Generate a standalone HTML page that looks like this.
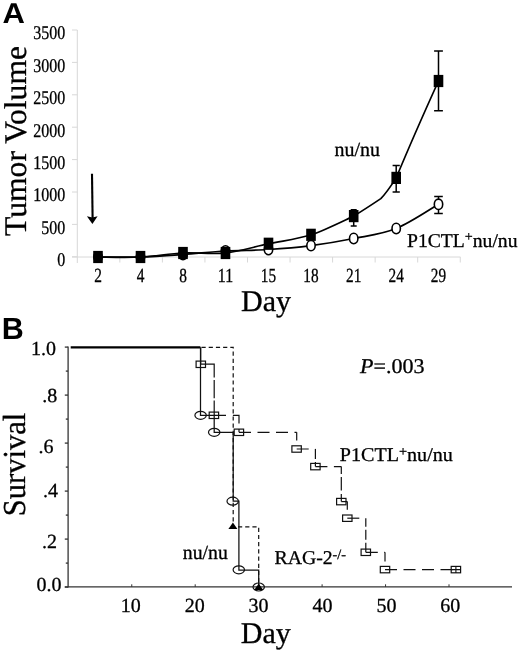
<!DOCTYPE html>
<html><head><meta charset="utf-8"><title>Figure</title>
<style>
html,body{margin:0;padding:0;background:#fff;}
body{width:520px;height:653px;overflow:hidden;font-family:"Liberation Serif",serif;}
svg{display:block;will-change:transform;}
text{font-family:"Liberation Serif",serif;fill:#000;text-rendering:geometricPrecision;stroke:#000;stroke-width:0.3px;}
.sans{stroke:none;}
.sans{font-family:"Liberation Sans",sans-serif;font-weight:bold;}
</style></head><body>
<svg width="520" height="653" viewBox="0 0 520 653">
<rect width="520" height="653" fill="#fff"/>

<text class="sans" x="2.6" y="22.5" font-size="28.6" textLength="22.4" lengthAdjust="spacingAndGlyphs">A</text>
<g stroke="#d8d8d8" stroke-width="1" fill="none">
<line x1="77.3" y1="30" x2="77.3" y2="263"/>
<line x1="72" y1="257" x2="460.5" y2="257"/>
<line x1="72" y1="30.00" x2="77.3" y2="30.00"/>
<line x1="72" y1="62.40" x2="77.3" y2="62.40"/>
<line x1="72" y1="94.80" x2="77.3" y2="94.80"/>
<line x1="72" y1="127.20" x2="77.3" y2="127.20"/>
<line x1="72" y1="159.60" x2="77.3" y2="159.60"/>
<line x1="72" y1="192.00" x2="77.3" y2="192.00"/>
<line x1="72" y1="224.40" x2="77.3" y2="224.40"/>
<line x1="72" y1="256.80" x2="77.3" y2="256.80"/>
<line x1="119.85" y1="257" x2="119.85" y2="262.5"/>
<line x1="162.40" y1="257" x2="162.40" y2="262.5"/>
<line x1="204.95" y1="257" x2="204.95" y2="262.5"/>
<line x1="247.50" y1="257" x2="247.50" y2="262.5"/>
<line x1="290.05" y1="257" x2="290.05" y2="262.5"/>
<line x1="332.60" y1="257" x2="332.60" y2="262.5"/>
<line x1="375.15" y1="257" x2="375.15" y2="262.5"/>
<line x1="417.70" y1="257" x2="417.70" y2="262.5"/>
<line x1="460.25" y1="257" x2="460.25" y2="262.5"/>
</g>
<text x="65.2" y="39.30" font-size="19.4" text-anchor="end" textLength="32.0" lengthAdjust="spacingAndGlyphs">3500</text>
<text x="65.2" y="71.70" font-size="19.4" text-anchor="end" textLength="32.0" lengthAdjust="spacingAndGlyphs">3000</text>
<text x="65.2" y="104.10" font-size="19.4" text-anchor="end" textLength="32.0" lengthAdjust="spacingAndGlyphs">2500</text>
<text x="65.2" y="136.50" font-size="19.4" text-anchor="end" textLength="32.0" lengthAdjust="spacingAndGlyphs">2000</text>
<text x="65.2" y="168.90" font-size="19.4" text-anchor="end" textLength="32.0" lengthAdjust="spacingAndGlyphs">1500</text>
<text x="65.2" y="201.30" font-size="19.4" text-anchor="end" textLength="32.0" lengthAdjust="spacingAndGlyphs">1000</text>
<text x="65.2" y="233.70" font-size="19.4" text-anchor="end" textLength="24.0" lengthAdjust="spacingAndGlyphs">500</text>
<text x="65.2" y="266.10" font-size="19.4" text-anchor="end" textLength="8.0" lengthAdjust="spacingAndGlyphs">0</text>
<text x="98.00" y="282.2" font-size="20" text-anchor="middle" textLength="7.7" lengthAdjust="spacingAndGlyphs">2</text>
<text x="140.50" y="282.2" font-size="20" text-anchor="middle" textLength="7.7" lengthAdjust="spacingAndGlyphs">4</text>
<text x="183.00" y="282.2" font-size="20" text-anchor="middle" textLength="7.7" lengthAdjust="spacingAndGlyphs">8</text>
<text x="225.50" y="282.2" font-size="20" text-anchor="middle" textLength="15.3" lengthAdjust="spacingAndGlyphs">11</text>
<text x="268.50" y="282.2" font-size="20" text-anchor="middle" textLength="15.3" lengthAdjust="spacingAndGlyphs">15</text>
<text x="311.00" y="282.2" font-size="20" text-anchor="middle" textLength="15.3" lengthAdjust="spacingAndGlyphs">18</text>
<text x="353.70" y="282.2" font-size="20" text-anchor="middle" textLength="15.3" lengthAdjust="spacingAndGlyphs">21</text>
<text x="396.20" y="282.2" font-size="20" text-anchor="middle" textLength="15.3" lengthAdjust="spacingAndGlyphs">24</text>
<text x="438.50" y="282.2" font-size="20" text-anchor="middle" textLength="15.3" lengthAdjust="spacingAndGlyphs">29</text>
<text x="266" y="310.8" font-size="30" text-anchor="middle">Day</text>
<text transform="translate(26,236) rotate(-90)" font-size="31.5" textLength="190" lengthAdjust="spacingAndGlyphs">Tumor Volume</text>
<line x1="92" y1="173.8" x2="92.6" y2="218" stroke="#000" stroke-width="2.1"/>
<path d="M86.9,216.2 L92.3,217.6 L97.6,216.2 L92.4,224 Z" fill="#000"/>
<path d="M98.00,257.00 C105.08,257.00 126.33,257.42 140.50,257.00 C154.67,256.58 168.83,255.50 183.00,254.50 C197.17,253.50 211.25,251.83 225.50,251.00 C239.75,250.17 254.25,250.40 268.50,249.50 C282.75,248.60 296.80,247.43 311.00,245.60 C325.20,243.77 339.50,241.35 353.70,238.50 C367.90,235.65 382.07,234.20 396.20,228.50 C410.33,222.80 431.45,208.33 438.50,204.30" fill="none" stroke="#000" stroke-width="1.7"/>
<path d="M98.00,257.00 C105.08,257.00 126.33,257.67 140.50,257.00 C154.67,256.33 168.83,253.67 183.00,253.00 C197.17,252.33 211.25,254.54 225.50,253.00 C239.75,251.46 254.25,246.78 268.50,243.75 C282.75,240.72 296.80,239.41 311.00,234.80 C325.20,230.19 346.58,219.22 353.70,216.10 C362,211 372,204.5 380.8,198.6 C386.5,193 391,186 396.2,177.9 C409,147 424,113 438.5,81" fill="none" stroke="#000" stroke-width="1.7"/>
<path d="M438.5,51.0 V110.8 M434.1,51.0 H442.9 M434.1,110.8 H442.9" stroke="#000" stroke-width="1.5" fill="none"/>
<path d="M396.2,165.6 V192.0 M392.6,165.6 H399.8 M392.6,192.0 H399.8" stroke="#000" stroke-width="1.5" fill="none"/>
<path d="M353.7,209.8 V226.0 M350.7,209.8 H356.7 M350.7,226.0 H356.7" stroke="#000" stroke-width="1.5" fill="none"/>
<path d="M438.5,196.5 V213.6 M434.2,196.5 H442.8 M434.2,213.6 H442.8" stroke="#000" stroke-width="1.5" fill="none"/>
<ellipse cx="98.00" cy="257.00" rx="4.2" ry="5.2" fill="#fff" stroke="#000" stroke-width="1.6"/>
<ellipse cx="140.50" cy="257.00" rx="4.2" ry="5.2" fill="#fff" stroke="#000" stroke-width="1.6"/>
<ellipse cx="183.00" cy="254.50" rx="4.2" ry="5.2" fill="#fff" stroke="#000" stroke-width="1.6"/>
<ellipse cx="225.50" cy="251.00" rx="4.2" ry="5.2" fill="#fff" stroke="#000" stroke-width="1.6"/>
<ellipse cx="268.50" cy="249.50" rx="4.2" ry="5.2" fill="#fff" stroke="#000" stroke-width="1.6"/>
<ellipse cx="311.00" cy="245.60" rx="4.2" ry="5.2" fill="#fff" stroke="#000" stroke-width="1.6"/>
<ellipse cx="353.70" cy="238.50" rx="4.2" ry="5.2" fill="#fff" stroke="#000" stroke-width="1.6"/>
<ellipse cx="396.20" cy="228.50" rx="4.2" ry="5.2" fill="#fff" stroke="#000" stroke-width="1.6"/>
<ellipse cx="438.50" cy="204.30" rx="4.2" ry="5.2" fill="#fff" stroke="#000" stroke-width="1.6"/>
<rect x="93.20" y="250.90" width="9.6" height="12.2" fill="#000"/>
<rect x="135.70" y="250.90" width="9.6" height="12.2" fill="#000"/>
<rect x="178.20" y="246.90" width="9.6" height="12.2" fill="#000"/>
<rect x="220.70" y="246.90" width="9.6" height="12.2" fill="#000"/>
<rect x="263.70" y="237.65" width="9.6" height="12.2" fill="#000"/>
<rect x="306.20" y="228.70" width="9.6" height="12.2" fill="#000"/>
<rect x="348.90" y="210.00" width="9.6" height="12.2" fill="#000"/>
<rect x="391.40" y="171.80" width="9.6" height="12.2" fill="#000"/>
<rect x="433.70" y="74.90" width="9.6" height="12.2" fill="#000"/>
<text x="334.5" y="155.5" font-size="20" textLength="45.5" lengthAdjust="spacingAndGlyphs">nu/nu</text>
<text x="407" y="246.8" font-size="19.5" textLength="110.5" lengthAdjust="spacingAndGlyphs">P1CTL<tspan font-size="14" dy="-5.5">+</tspan><tspan dy="5.5">nu/nu</tspan></text>
<text class="sans" x="1.8" y="338.8" font-size="30.5">B</text>
<g stroke="#333" stroke-width="1.3" fill="none">
<line x1="68.1" y1="346.5" x2="68.1" y2="587.4"/>
<line x1="64.8" y1="586.9" x2="512" y2="586.9" stroke-width="1.2"/>
<line x1="64.8" y1="347.10" x2="68" y2="347.10"/>
<line x1="65.8" y1="371.10" x2="68" y2="371.10"/>
<line x1="64.8" y1="395.10" x2="68" y2="395.10"/>
<line x1="65.8" y1="419.10" x2="68" y2="419.10"/>
<line x1="64.8" y1="443.10" x2="68" y2="443.10"/>
<line x1="65.8" y1="467.10" x2="68" y2="467.10"/>
<line x1="64.8" y1="491.10" x2="68" y2="491.10"/>
<line x1="65.8" y1="515.10" x2="68" y2="515.10"/>
<line x1="64.8" y1="539.10" x2="68" y2="539.10"/>
<line x1="65.8" y1="563.10" x2="68" y2="563.10"/>
<line x1="64.8" y1="587.10" x2="68" y2="587.10"/>
<line x1="131.75" y1="586.9" x2="131.75" y2="584.3" stroke-width="1"/>
<line x1="195.20" y1="586.9" x2="195.20" y2="584.3" stroke-width="1"/>
<line x1="258.65" y1="586.9" x2="258.65" y2="584.3" stroke-width="1"/>
<line x1="322.10" y1="586.9" x2="322.10" y2="584.3" stroke-width="1"/>
<line x1="385.55" y1="586.9" x2="385.55" y2="584.3" stroke-width="1"/>
<line x1="449.00" y1="586.9" x2="449.00" y2="584.3" stroke-width="1"/>
</g>
<text x="56.10" y="354.50" font-size="20" text-anchor="end">1.0</text>
<text x="57.30" y="401.70" font-size="20" text-anchor="end">.8</text>
<text x="53.60" y="453.00" font-size="20" text-anchor="end">.6</text>
<text x="57.90" y="497.40" font-size="20" text-anchor="end">.4</text>
<text x="57.00" y="548.30" font-size="20" text-anchor="end">.2</text>
<text x="61.60" y="591.40" font-size="20" text-anchor="end">0.0</text>
<text x="130.80" y="611.6" font-size="20" text-anchor="middle">10</text>
<text x="194.70" y="611.6" font-size="20" text-anchor="middle">20</text>
<text x="258.60" y="611.6" font-size="20" text-anchor="middle">30</text>
<text x="322.50" y="611.6" font-size="20" text-anchor="middle">40</text>
<text x="386.40" y="611.6" font-size="20" text-anchor="middle">50</text>
<text x="450.30" y="611.6" font-size="20" text-anchor="middle">60</text>
<text x="265.8" y="642.9" font-size="30" text-anchor="middle">Day</text>
<text transform="translate(25,516.3) rotate(-90)" font-size="32" textLength="103.5" lengthAdjust="spacingAndGlyphs">Survival</text>
<text x="360" y="372.9" font-size="21" textLength="64.5" lengthAdjust="spacingAndGlyphs"><tspan font-style="italic">P</tspan>=.003</text>
<text x="339.8" y="461.4" font-size="19.5" textLength="113" lengthAdjust="spacingAndGlyphs">P1CTL<tspan font-size="14" dy="-5.5">+</tspan><tspan dy="5.5">nu/nu</tspan></text>
<text x="182.8" y="558.5" font-size="20" textLength="45" lengthAdjust="spacingAndGlyphs">nu/nu</text>
<text x="274.5" y="563.5" font-size="19.5" textLength="71.5" lengthAdjust="spacingAndGlyphs">RAG-2<tspan font-size="14" dy="-5">-/-</tspan></text>
<line x1="70.7" y1="347.4" x2="200.4" y2="347.4" stroke="#000" stroke-width="2.3"/>
<path d="M201.5,347.3 H233.2 V526.8 H258.7 V587" fill="none" stroke="#111" stroke-width="1.2" stroke-dasharray="4.2,3"/>
<path d="M200.7,347.6 V364.2 H214.2 V415.3 H239 V432.3" fill="none" stroke="#111" stroke-width="1.2" stroke-dasharray="43.4 2.6 18.2 2.3 26.5 6.9 14.3 5.6 20 0"/>
<path d="M239.0,432.3 H296.7" fill="none" stroke="#111" stroke-width="1.2" stroke-dasharray="12,6.5"/>
<path d="M296.7,432.3 V449.0" fill="none" stroke="#111" stroke-width="1.2" stroke-dasharray="8.1,30"/>
<path d="M296.7,449.0 H315.4" fill="none" stroke="#111" stroke-width="1.2" stroke-dasharray="12,6.5"/>
<path d="M315.4,449.0 V466.6" fill="none" stroke="#111" stroke-width="1.2" stroke-dasharray="10,3"/>
<path d="M315.4,466.6 H341.3" fill="none" stroke="#111" stroke-width="1.2" stroke-dasharray="12,6.5"/>
<path d="M341.3,466.6 V501.6" fill="none" stroke="#111" stroke-width="1.2" stroke-dasharray="7.4,3,13.5,3.5,10,0"/>
<path d="M341.3,501.6 H347.3" fill="none" stroke="#111" stroke-width="1.2" stroke-dasharray="12,6.5"/>
<path d="M347.3,501.6 V518.2" fill="none" stroke="#111" stroke-width="1.2" stroke-dasharray="8.1,30"/>
<path d="M347.3,518.2 H365.8" fill="none" stroke="#111" stroke-width="1.2" stroke-dasharray="12,6.5"/>
<path d="M365.8,518.2 V552.3" fill="none" stroke="#111" stroke-width="1.2" stroke-dasharray="8.5,3,10,3,10,0"/>
<path d="M365.8,552.3 H385.0" fill="none" stroke="#111" stroke-width="1.2" stroke-dasharray="12,6.5"/>
<path d="M385.0,552.3 V569.6" fill="none" stroke="#111" stroke-width="1.2" stroke-dasharray="9.2,30"/>
<path d="M385,569.6 H455.9" fill="none" stroke="#111" stroke-width="1.2" stroke-dasharray="12,6.5"/>
<path d="M200.5,347.6 V415.3 H214.2 V432.3 H233.2 V501 H238.9 V570 H258.7 V587" fill="none" stroke="#111" stroke-width="1.25"/>
<rect x="196.1" y="361.1" width="9.4" height="6.4" fill="none" stroke="#111" stroke-width="1.2"/>
<rect x="209.2" y="412.1" width="9.4" height="6.4" fill="none" stroke="#111" stroke-width="1.2"/>
<rect x="234.2" y="429.1" width="9.4" height="6.4" fill="none" stroke="#111" stroke-width="1.2"/>
<rect x="291.9" y="445.8" width="9.4" height="6.4" fill="none" stroke="#111" stroke-width="1.2"/>
<rect x="310.7" y="463.4" width="9.4" height="6.4" fill="none" stroke="#111" stroke-width="1.2"/>
<rect x="336.6" y="498.4" width="9.4" height="6.4" fill="none" stroke="#111" stroke-width="1.2"/>
<rect x="342.6" y="515.0" width="9.4" height="6.4" fill="none" stroke="#111" stroke-width="1.2"/>
<rect x="361.1" y="549.1" width="9.4" height="6.4" fill="none" stroke="#111" stroke-width="1.2"/>
<rect x="380.3" y="566.4" width="9.4" height="6.4" fill="none" stroke="#111" stroke-width="1.2"/>
<rect x="451.2" y="566.4" width="9.4" height="6.4" fill="none" stroke="#111" stroke-width="1.2"/>
<path d="M455.9,566.4 V572.9 M451.2,569.6 H460.6" stroke="#111" stroke-width="1.1"/>
<ellipse cx="200.6" cy="415.3" rx="5.7" ry="4" fill="none" stroke="#111" stroke-width="1.2"/>
<ellipse cx="214.2" cy="432.3" rx="5.7" ry="4" fill="none" stroke="#111" stroke-width="1.2"/>
<ellipse cx="232.7" cy="501.2" rx="5.7" ry="4" fill="none" stroke="#111" stroke-width="1.2"/>
<ellipse cx="238.8" cy="569.8" rx="5.7" ry="4" fill="none" stroke="#111" stroke-width="1.2"/>
<ellipse cx="258.7" cy="587.0" rx="5.7" ry="4" fill="none" stroke="#111" stroke-width="1.2"/>
<path d="M228.4,529.0 L237.4,529.0 L232.9,522.5 Z" fill="#000"/>
<path d="M254.2,590.0 L263.2,590.0 L258.7,583.5 Z" fill="#000"/>
</svg></body></html>
